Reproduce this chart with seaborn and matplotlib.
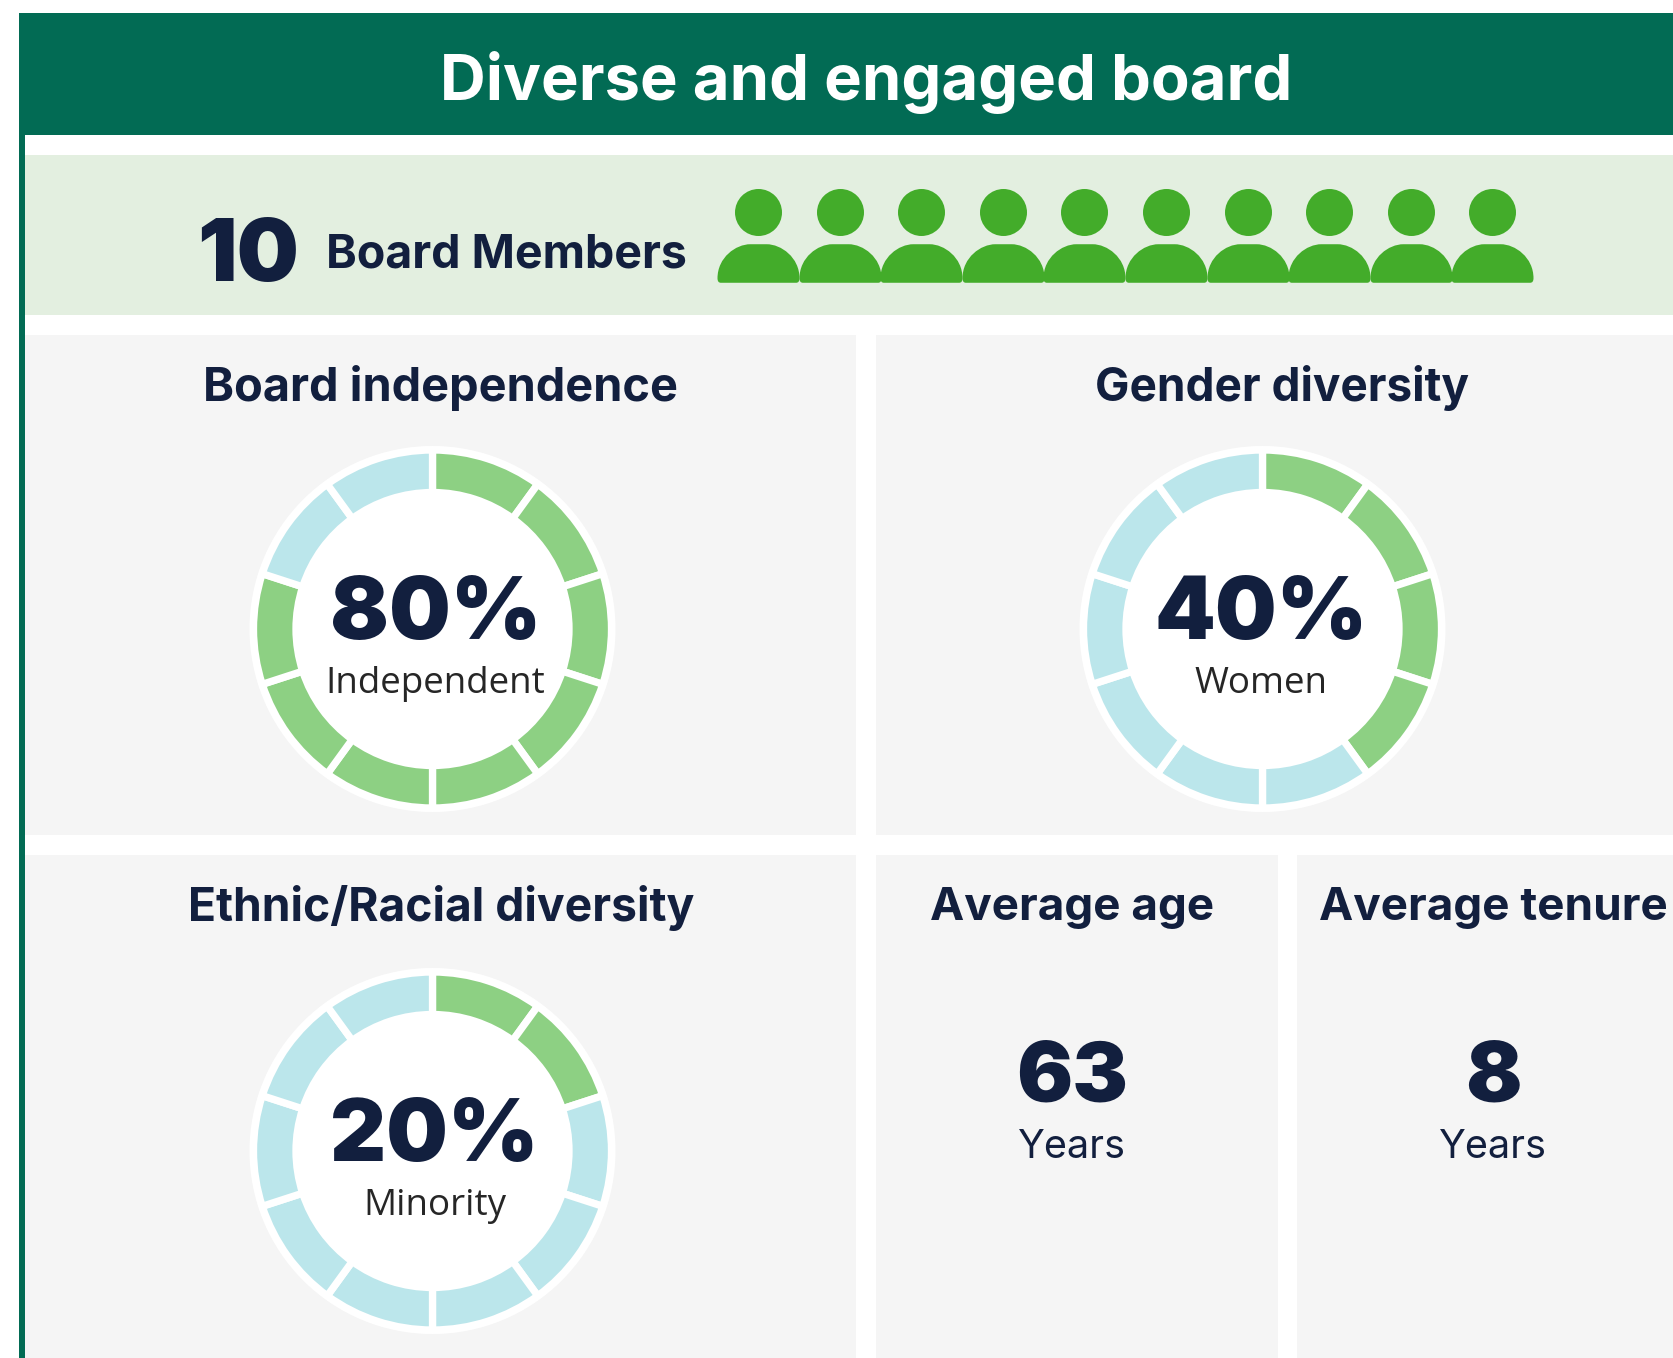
import matplotlib
matplotlib.use('Agg')
import matplotlib.pyplot as plt
from matplotlib.patches import Rectangle, Circle
from matplotlib.path import Path
import seaborn as sns
import pandas as pd

# values
title = 'Diverse and engaged board'
board_members = 10
members = [1, 2, 3, 4, 5, 6, 7, 8, 9, 10]
ring_names = ['Board independence', 'Gender diversity', 'Ethnic/Racial diversity']
ring_shares = [80, 40, 20]
ring_labels = ['Independent', 'Women', 'Minority']
segment_sizes = [10, 10, 10, 10, 10, 10, 10, 10, 10, 10]
stat_names = ['Average age', 'Average tenure']
stat_values = [63, 8]
stat_units = ['Years', 'Years']

W, H = 1674, 1358
DARK_GREEN = '#026B54'
PERSON_GREEN = '#43AC2A'
SEG_GREEN = '#8DD083'
SEG_BLUE = '#BBE6EB'
BAND = '#E3EFE0'
PANEL = '#F5F5F5'
NAVY = '#121F3E'

sns.set_theme(style='white')
plt.rcParams['font.family'] = ['Inter', 'DejaVu Sans']

fig = plt.figure(figsize=(W / 100, H / 100), dpi=100, facecolor='white')


def px_axes(left, top, right, bottom):
    # axes placed by pixel box, y measured from top of figure
    return fig.add_axes([left / W, 1 - bottom / H, (right - left) / W, (bottom - top) / H])


# background layer in pixel coordinates
bg = px_axes(0, 0, W, H)
bg.set_xlim(0, W)
bg.set_ylim(H, 0)
bg.axis('off')

boxes = [
    (19, 13, W, 135, DARK_GREEN),
    (19, 135, 25, H, DARK_GREEN),
    (25, 155, W, 315, BAND),
    (25, 335, 856, 835, PANEL),
    (876, 335, W, 835, PANEL),
    (25, 855, 856, H, PANEL),
    (876, 855, 1278, H, PANEL),
    (1297, 855, W, H, PANEL),
]
for x0, y0, x1, y1, col in boxes:
    bg.add_patch(Rectangle((x0, y0), x1 - x0, y1 - y0, fc=col, ec='none'))

bg.text(866, 83, title, color='white', fontsize=45.6, fontweight='bold', ha='center', va='center')
bg.text(248, 258, str(board_members), color=NAVY, fontsize=63, fontweight='black', ha='center', va='center')
bg.text(326, 255, 'Board Members', color=NAVY, fontsize=33.5, fontweight='bold', ha='left', va='center')

# row of people, one head and one body per member
body = Path(
    [(-0.92, -0.47), (-1, -0.47), (-1, -0.36),
     (-1, 0.15), (-0.55, 0.47), (-0.2, 0.47),
     (0.2, 0.47),
     (0.55, 0.47), (1, 0.15), (1, -0.36),
     (1, -0.47), (0.92, -0.47),
     (-0.92, -0.47)],
    [Path.MOVETO, Path.CURVE3, Path.CURVE3,
     Path.CURVE4, Path.CURVE4, Path.CURVE4,
     Path.LINETO,
     Path.CURVE4, Path.CURVE4, Path.CURVE4,
     Path.CURVE3, Path.CURVE3,
     Path.CLOSEPOLY])

people_ax = px_axes(758 - 40.8, 155, 1492.5 + 40.8, 315)
people_ax.patch.set_alpha(0)
df_people = pd.DataFrame({'member': members})
sns.scatterplot(data=df_people.assign(y=212), x='member', y='y', ax=people_ax, marker='o',
                s=(47 * 0.72) ** 2, color=PERSON_GREEN, linewidth=0, legend=False)
sns.scatterplot(data=df_people.assign(y=262.5), x='member', y='y', ax=people_ax, marker=body,
                s=(82 * 0.72) ** 2, color=PERSON_GREEN, linewidth=0, legend=False)
people_ax.set_xlim(0.5, 10.5)
people_ax.set_ylim(315, 155)
people_ax.axis('off')


def ring(cx, cy, share):
    ax = px_axes(cx - 186, cy - 186, cx + 186, cy + 186)
    ax.patch.set_alpha(0)
    ax.add_patch(Circle((0, 0), 183, fc='white', ec='none'))
    n_green = share // segment_sizes[0]
    colors = [SEG_GREEN] * n_green + [SEG_BLUE] * (len(segment_sizes) - n_green)
    ax.pie(segment_sizes, colors=colors, radius=179, startangle=90, counterclock=False,
           wedgeprops=dict(width=42.5, edgecolor='white', linewidth=5.25))
    ax.set_xlim(-186, 186)
    ax.set_ylim(-186, 186)
    ax.set_aspect('equal')
    ax.axis('off')


ring_centres = [(432.5, 629), (1262.5, 629), (432.5, 1151)]
name_pos = [(441, 388), (1282, 388), (441, 908)]
name_sizes = [33.8, 33.1, 33.3]
text_x = [435.5, 1261, 434.5]
for name, size, share, (cx, cy), (nx, ny) in zip(ring_names, name_sizes, ring_shares, ring_centres, name_pos):
    ring(cx, cy, share)
    bg.text(nx, ny, name, color=NAVY, fontsize=size, fontweight='bold', ha='center', va='center')

# text on top of the rings
top = px_axes(0, 0, W, H)
top.patch.set_alpha(0)
top.set_xlim(0, W)
top.set_ylim(H, 0)
top.axis('off')
for share, label, x, (cx, cy) in zip(ring_shares, ring_labels, text_x, ring_centres):
    top.text(x, cy - 12, f'{share}%', color=NAVY, fontsize=62.5, fontweight='black', ha='center', va='center')
    top.text(x, cy + 55, label, color='#262626', fontsize=26.5, family=['Open Sans', 'DejaVu Sans'],
             ha='center', va='center')

stat_x = [1072, 1493]
stat_name_sizes = [33, 33]
for name, size, value, unit, x in zip(stat_names, stat_name_sizes, stat_values, stat_units, stat_x):
    top.text(x, 908, name, color=NAVY, fontsize=size, fontweight='bold', ha='center', va='center')
    top.text(x, 1080, str(value), color=NAVY, fontsize=60, fontweight='black', ha='center', va='center')
    top.text(x, 1148, unit, color=NAVY, fontsize=28.5, ha='center', va='center')

fig.savefig('out.png', dpi=100)
